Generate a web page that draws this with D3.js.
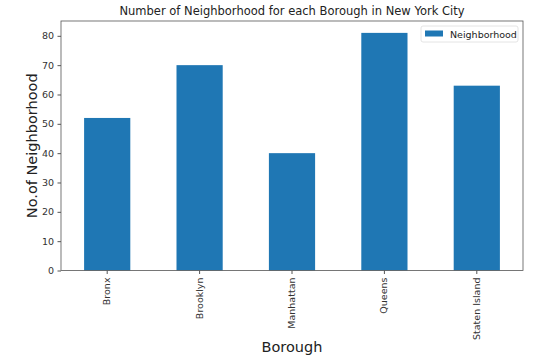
<!DOCTYPE html>
<html><head><meta charset="utf-8">
<script src="https://cdn.jsdelivr.net/npm/d3@7"></script>
<style>body{margin:0;background:#fff}svg{display:block;font-family:"DejaVu Sans",sans-serif}</style>
</head><body>
<svg id="c" width="540" height="359"></svg>
<script>
const categories = ["Bronx","Brooklyn","Manhattan","Queens","Staten Island"];
const values = [52,70,40,81,63];
const yTicks = [0,10,20,30,40,50,60,70,80];

const svg = d3.select("#c");
const m = {l:61, r:523, t:21, b:270.5};
const x = d3.scaleBand().domain(categories).range([m.l, m.r]).paddingInner(0.5).paddingOuter(0.25);
const y = d3.scaleLinear().domain([0, 85.05]).range([m.b, m.t]);
const color = "#1f77b4";

svg.append("g").selectAll("rect").data(values).join("rect")
  .attr("x",(d,i)=>x(categories[i])).attr("width",x.bandwidth())
  .attr("y",d=>y(d)).attr("height",d=>m.b-y(d)).attr("fill",color);

svg.append("rect").attr("x",m.l).attr("y",m.t).attr("width",m.r-m.l).attr("height",m.b-m.t)
  .attr("fill","none").attr("stroke","#555").attr("stroke-width",0.8);

const ya = svg.append("g").attr("transform",`translate(${m.l},0)`)
  .call(d3.axisLeft(y).tickValues(yTicks).tickSize(3.5).tickPadding(3.5));
ya.select(".domain").remove();
ya.selectAll("text").attr("font-size",9.5).attr("fill","#333").attr("font-family","DejaVu Sans");
ya.selectAll("line").attr("stroke","#555");

const xa = svg.append("g").attr("transform",`translate(0,${m.b})`)
  .call(d3.axisBottom(x).tickSize(3.5).tickPadding(3.5));
xa.select(".domain").remove();
xa.selectAll("line").attr("stroke","#555");
xa.selectAll("text").attr("font-size",9.5).attr("fill","#333").attr("font-family","DejaVu Sans")
  .attr("transform","rotate(-90)").attr("text-anchor","end").attr("dy","0.32em")
  .attr("x",-7).attr("y",0);

svg.append("text").attr("x",(m.l+m.r)/2).attr("y",15).attr("text-anchor","middle")
  .attr("font-size",11.5).attr("fill","#222").text("Number of Neighborhood for each Borough in New York City");
svg.append("text").attr("x",(m.l+m.r)/2).attr("y",352).attr("text-anchor","middle")
  .attr("font-size",14.5).attr("fill","#222").text("Borough");
svg.append("text").attr("transform",`translate(37,${(m.t+m.b)/2}) rotate(-90)`).attr("text-anchor","middle")
  .attr("font-size",14.5).attr("fill","#222").text("No.of Neighborhood");

const lg = svg.append("g");
lg.append("rect").attr("x",421).attr("y",26).attr("width",97).attr("height",16).attr("rx",2)
  .attr("fill","#fff").attr("stroke","#ddd").attr("stroke-width",0.8);
lg.append("rect").attr("x",425).attr("y",30.5).attr("width",18).attr("height",6).attr("fill",color);
lg.append("text").attr("x",450).attr("y",37.5).attr("font-size",9.5).attr("fill","#222").text("Neighborhood");
</script>
</body></html>
